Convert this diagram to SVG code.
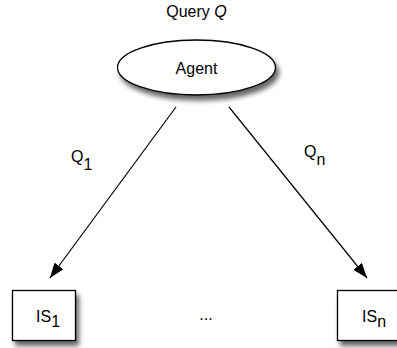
<svg xmlns="http://www.w3.org/2000/svg" width="397" height="348" viewBox="0 0 397 348">
<defs>
<filter id="sh" x="-20%" y="-20%" width="150%" height="160%">
<feDropShadow dx="3" dy="5" stdDeviation="2.5" flood-color="#000" flood-opacity="0.6"/>
</filter>
<marker id="ah" viewBox="0 0 15 11" refX="15" refY="5.5" markerWidth="15" markerHeight="11" markerUnits="userSpaceOnUse" orient="auto">
<path d="M0,0 L15,5.5 L0,11 z" fill="#000"/>
</marker>
</defs>
<style>
text{font-family:"Liberation Sans",Arial,sans-serif;font-size:16px;fill:#000}
.node{fill:#fff;stroke:#000;stroke-width:1.3;filter:url(#sh)}
.edge{stroke:#000;stroke-width:1.2;fill:none;marker-end:url(#ah)}
</style>
<text x="196.5" y="17" text-anchor="middle">Query <tspan font-style="italic">Q</tspan></text>
<g id="agent">
<ellipse class="node" cx="196.5" cy="67.5" rx="79" ry="27.5"/>
<text x="196.5" y="74" text-anchor="middle">Agent</text>
</g>
<g id="is1">
<rect class="node" x="12.5" y="290.5" width="63" height="50"/>
<text x="36" y="322">IS<tspan dy="5">1</tspan></text>
</g>
<g id="isn">
<rect class="node" x="337.5" y="290.5" width="63" height="50"/>
<text x="362" y="322">IS<tspan dy="5">n</tspan></text>
</g>
<text x="206" y="320" text-anchor="middle">...</text>
<g id="connectors">
<line class="edge" x1="176" y1="107" x2="50" y2="278"/>
<line class="edge" x1="229" y1="107" x2="367" y2="278"/>
<text x="71" y="162">Q<tspan dy="8">1</tspan></text>
<text x="304" y="157">Q<tspan dy="8">n</tspan></text>
</g>
</svg>
